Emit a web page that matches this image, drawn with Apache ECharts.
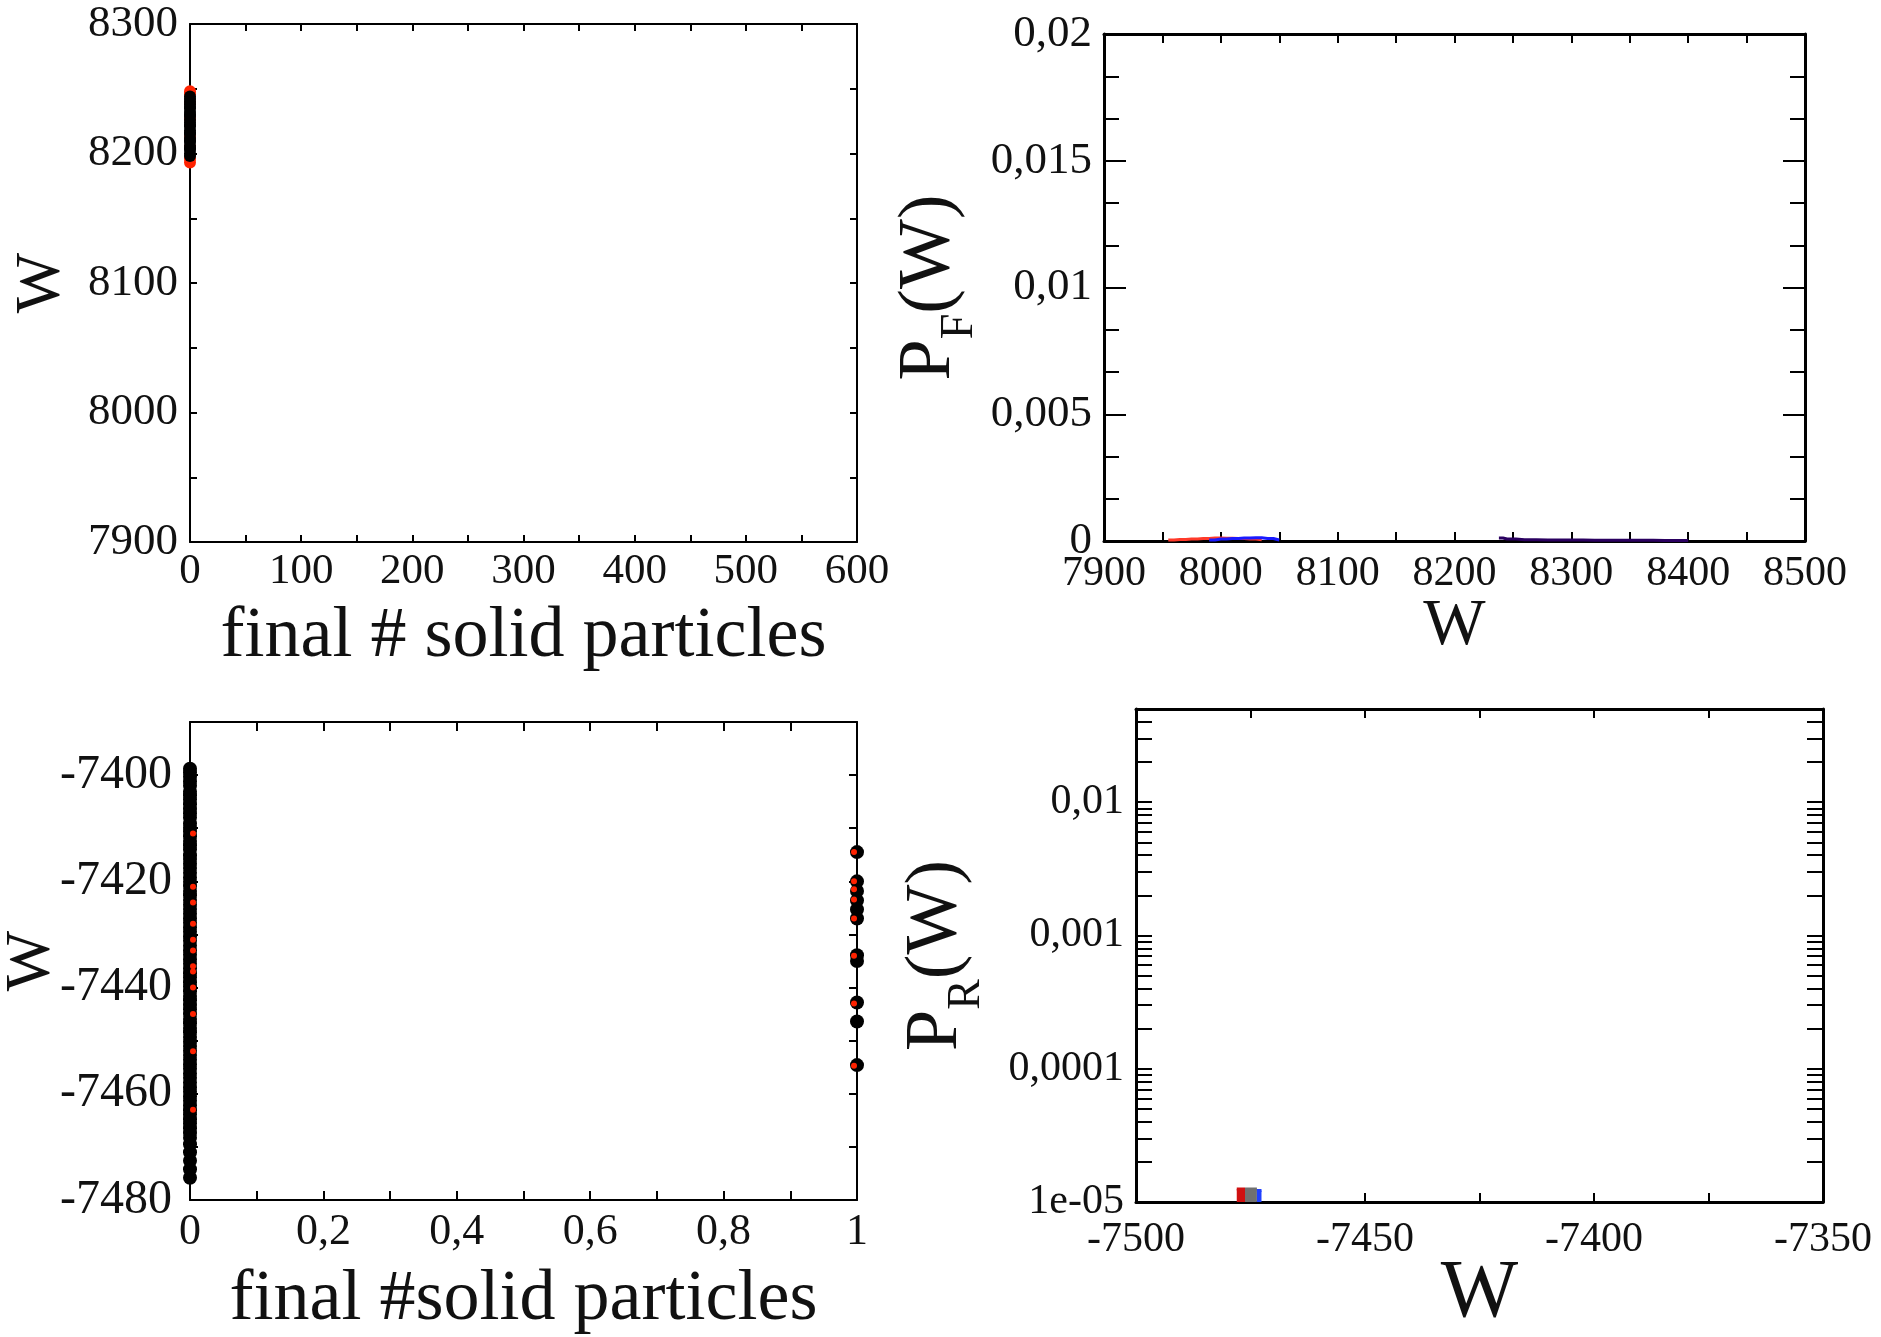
<!DOCTYPE html>
<html>
<head>
<meta charset="utf-8">
<script src="https://cdn.jsdelivr.net/npm/echarts@6/dist/echarts.min.js"></script>
<style>
  html, body { margin: 0; padding: 0; background: #ffffff; }
  #chart { width: 1881px; height: 1337px; }
</style>
</head>
<body>
<div id="chart"></div>
<script>
// ---- forward protocol: work W against final number of solid particles ----
const fwdZeroBlackW = [8198, 8200, 8203, 8204, 8206, 8209, 8210, 8212, 8215, 8216, 8218, 8221,
                       8222, 8224, 8226, 8229, 8230, 8232, 8235, 8236, 8238, 8240, 8242, 8244];
const fwdZeroRedW = [8193, 8196, 8205, 8213, 8227, 8239, 8246, 8248];

// ---- forward work distribution P_F(W) ----
const pfRedW  = [7955, 7965, 7975, 7985, 7995, 8005, 8015, 8025, 8035];
const pfRedP  = [0.00004, 0.00006, 0.00008, 0.0001, 0.00012, 0.00011, 0.0001, 0.00008, 0.00005];
const pfBlueW = [7990, 8000, 8010, 8020, 8030, 8040, 8050];
const pfBlueP = [0.00004, 0.00008, 0.0001, 0.00012, 0.00013, 0.0001, 0.00004];
const pfDarkW = [8238, 8245, 8260, 8280, 8300, 8320, 8340, 8360, 8380, 8400];
const pfDarkP = [0.00012, 0.00008, 0.00005, 0.00004, 0.00004, 0.00003, 0.00003, 0.00003, 0.00002, 0.00002];

// ---- reverse protocol: work W against final number of solid particles ----
const revZeroBlackW = [-7398.8, -7399.5, -7400.3, -7401.2, -7402, -7403.1, -7403.8, -7404.6, -7405.5, -7406.4,
                       -7407.2, -7408, -7409.1, -7409.9, -7410.6, -7411.5, -7412.4, -7413.2, -7414, -7415.1,
                       -7415.8, -7416.7, -7417.5, -7418.4, -7419.3, -7420.1, -7420.9, -7421.8, -7422.6, -7423.5,
                       -7424.4, -7425.2, -7426.1, -7427, -7427.8, -7428.7, -7429.5, -7430.4, -7431.2, -7432.1,
                       -7433, -7433.8, -7434.7, -7435.5, -7436.4, -7437.3, -7438.1, -7439, -7439.8, -7440.7,
                       -7441.6, -7442.4, -7443.3, -7444.1, -7445, -7445.9, -7446.7, -7447.6, -7448.4, -7449.3,
                       -7450.2, -7451, -7451.9, -7452.7, -7453.6, -7454.5, -7455.3, -7456.2, -7457, -7457.9,
                       -7458.8, -7459.6, -7460.5, -7461.3, -7462.2, -7463.1, -7463.9, -7464.8, -7465.6, -7466.5,
                       -7467.4, -7468.3, -7469.5, -7471, -7472.6, -7474.2, -7475.8];
const revZeroRedW = [-7411, -7421, -7424, -7428, -7431, -7433, -7436, -7437, -7440, -7445, -7452, -7463];
const revOneBlackW = [-7414.5, -7420, -7421.8, -7423.6, -7425.3, -7427, -7433.9, -7435, -7442.8, -7446.4, -7454.6];
const revOneRedW = [-7414.5, -7420, -7421.5, -7423.4, -7427, -7434, -7443, -7454.7];

// ---- reverse work distribution P_R(W) (log scale) ----
const prRedW  = [-7478, -7476.2];
const prRedP  = [1.25e-5, 1.25e-5];
const prGreyW = [-7476.2, -7473.6];
const prGreyP = [1.25e-5, 1.25e-5];
const prBlueW = [-7473.6, -7472.6];
const prBlueP = [1.22e-5, 1.22e-5];
const prLogLabels = { '-5': '1e-05', '-4': '0,0001', '-3': '0,001', '-2': '0,01' };

const FONT = 'Liberation Serif';
const INK = '#111111';

const pairs = (xs, ys) => xs.map((x, i) => [x, ys[i]]);
const atX = (x, ws) => ws.map(w => [x, w]);
const comma = v => String(v).replace('.', ',');

const grids = [
  { left: 190,  top: 24,  width: 667, height: 518, outerBoundsMode: 'none' },
  { left: 1104, top: 34,  width: 701, height: 507, outerBoundsMode: 'none' },
  { left: 190,  top: 722, width: 667, height: 478, outerBoundsMode: 'none' },
  { left: 1136, top: 709, width: 687, height: 493, outerBoundsMode: 'none' }
];

const xAxes = [];
const yAxes = [];

// each panel gets a full box: labelled bottom/left axes plus mirrored top/right ticks
function frame(g, c) {
  const line = { show: true, onZero: false, lineStyle: { color: '#000', width: c.lw } };
  const tickX = { show: true, inside: true, length: c.xTick, lineStyle: { color: '#000', width: 2 } };
  const minorX = { show: true, splitNumber: c.xMinor, length: c.xMinorLen || c.xTick, lineStyle: { color: '#000', width: 2 } };
  const tickY = { show: true, inside: true, length: c.yTick, lineStyle: { color: '#000', width: 2 } };
  const minorY = { show: true, splitNumber: c.yMinor, length: c.yMinorLen || c.yTick, lineStyle: { color: '#000', width: 2 } };
  const xBase = { gridIndex: g, type: 'value', min: c.xMin, max: c.xMax, interval: c.xInt,
                  axisLine: line, axisTick: tickX, minorTick: minorX, splitLine: { show: false } };
  const yBase = { gridIndex: g, type: c.yType || 'value', min: c.yMin, max: c.yMax,
                  axisLine: line, axisTick: tickY, minorTick: minorY, splitLine: { show: false } };
  if (c.yInt) yBase.interval = c.yInt;
  xAxes.push(Object.assign({}, xBase, {
    position: 'bottom',
    axisLabel: { fontFamily: FONT, fontSize: c.xFont, color: INK, margin: c.xMargin,
                 formatter: c.xFmt || comma },
    name: c.xName, nameLocation: 'middle', nameGap: c.xGap, nameMoveOverlap: false,
    nameTextStyle: { fontFamily: FONT, fontSize: c.xNameSize, color: INK }
  }));
  xAxes.push(Object.assign({}, xBase, { position: 'top', axisLabel: { show: false } }));
  yAxes.push(Object.assign({}, yBase, {
    position: 'left',
    axisLabel: { fontFamily: FONT, fontSize: c.yFont, color: INK, margin: c.yMargin,
                 showMaxLabel: c.yShowMax !== false, formatter: c.yFmt || comma },
    name: c.yName, nameLocation: 'middle', nameGap: c.yGap, nameRotate: 90, nameMoveOverlap: false,
    nameTextStyle: Object.assign({ fontFamily: FONT, fontSize: c.yNameSize, color: INK }, c.yNameRich ? { rich: c.yNameRich } : {})
  }));
  yAxes.push(Object.assign({}, yBase, { position: 'right', axisLabel: { show: false } }));
}

const subRich = {
  m: { fontFamily: FONT, fontSize: 74, color: INK, verticalAlign: 'top', lineHeight: 74 },
  s: { fontFamily: FONT, fontSize: 46, color: INK, verticalAlign: 'top', lineHeight: 46, padding: [44, 0, 0, 0] }
};

frame(0, { lw: 2, xMin: 0, xMax: 600, xInt: 100, xMinor: 2, xTick: 7, yMin: 7900, yMax: 8300, yInt: 100, yMinor: 2, yTick: 7,
           xFont: 43, yFont: 45, xMargin: 8, yMargin: 12,
           xName: 'final # solid particles', xGap: 59, xNameSize: 72,
           yName: 'W', yGap: 116, yNameSize: 64 });
frame(1, { lw: 3, xMin: 7900, xMax: 8500, xInt: 100, xMinor: 2, xTick: 9, yMin: 0, yMax: 0.02, yInt: 0.005, yMinor: 3, yTick: 22, yMinorLen: 15,
           xFont: 42, yFont: 45, xMargin: 12, yMargin: 12,
           xName: 'W', xGap: 53, xNameSize: 66,
           yName: '{m|P}{s|F}{m|(W)}', yGap: 137, yNameSize: 74, yNameRich: subRich });
frame(2, { lw: 2, xMin: 0, xMax: 1, xInt: 0.2, xMinor: 2, xTick: 9, yMin: -7480, yMax: -7390, yInt: 20, yMinor: 2, yTick: 8,
           xFont: 44, yFont: 48, xMargin: 10, yMargin: 18, yShowMax: false,
           xName: 'final #solid particles', xGap: 64, xNameSize: 72,
           yName: 'W', yGap: 126, yNameSize: 64 });
frame(3, { lw: 3, xMin: -7500, xMax: -7350, xInt: 50, xMinor: 2, xTick: 9, yType: 'log', yMin: 1e-5, yMax: 0.05, yMinor: 9, yTick: 16,
           xFont: 42, yFont: 42, xMargin: 17, yMargin: 12, yShowMax: false,
           yFmt: v => prLogLabels[String(Math.round(Math.log10(v)))] || '',
           xName: 'W', xGap: 51, xNameSize: 82,
           yName: '{m|P}{s|R}{m|(W)}', yGap: 162, yNameSize: 74, yNameRich: subRich });

const dot = (name, xi, yi, data, color, size, extra) => Object.assign({
  name, type: 'scatter', xAxisIndex: xi, yAxisIndex: yi, data, symbol: 'circle', symbolSize: size,
  itemStyle: { color, opacity: 1 }, clip: false, silent: true
}, extra || {});

const hist = (name, xi, yi, data, color, extra) => Object.assign({
  name, type: 'line', xAxisIndex: xi, yAxisIndex: yi, data, step: 'middle', showSymbol: false,
  lineStyle: { color, width: 3 }, silent: true
}, extra || {});

const series = [
  // forward W vs particles
  dot('fwd red', 0, 0, atX(0, fwdZeroRedW), '#ff2200', 12),
  dot('fwd black', 0, 0, atX(0, fwdZeroBlackW), '#000000', 12),
  // forward distribution
  hist('PF red', 2, 2, pairs(pfRedW, pfRedP), '#ff3a2a'),
  hist('PF blue', 2, 2, pairs(pfBlueW, pfBlueP), '#1a1aff'),
  hist('PF dark', 2, 2, pairs(pfDarkW, pfDarkP), '#2a0060'),
  // reverse W vs particles
  dot('rev black 0', 4, 4, atX(0, revZeroBlackW), '#000000', 14),
  dot('rev black 1', 4, 4, atX(1, revOneBlackW), '#000000', 14),
  dot('rev red 0', 4, 4, atX(0, revZeroRedW), '#ff2200', 6, { symbolOffset: [3, 0] }),
  dot('rev red 1', 4, 4, atX(1, revOneRedW), '#ff2200', 6, { symbolOffset: [-3, 0] }),
  // reverse distribution
  hist('PR red', 6, 6, pairs(prRedW, prRedP), '#d01010', { step: false, areaStyle: { color: '#d01010', opacity: 1, origin: 'start' } }),
  hist('PR grey', 6, 6, pairs(prGreyW, prGreyP), '#707070', { step: false, areaStyle: { color: '#707070', opacity: 1, origin: 'start' } }),
  hist('PR blue', 6, 6, pairs(prBlueW, prBlueP), '#2040ff', { step: false, areaStyle: { color: '#2040ff', opacity: 1, origin: 'start' } })
];

const chart = echarts.init(document.getElementById('chart'), null, { renderer: 'canvas' });
chart.setOption({
  backgroundColor: '#ffffff',
  animation: false,
  grid: grids,
  xAxis: xAxes,
  yAxis: yAxes,
  series
});
</script>
</body>
</html>
